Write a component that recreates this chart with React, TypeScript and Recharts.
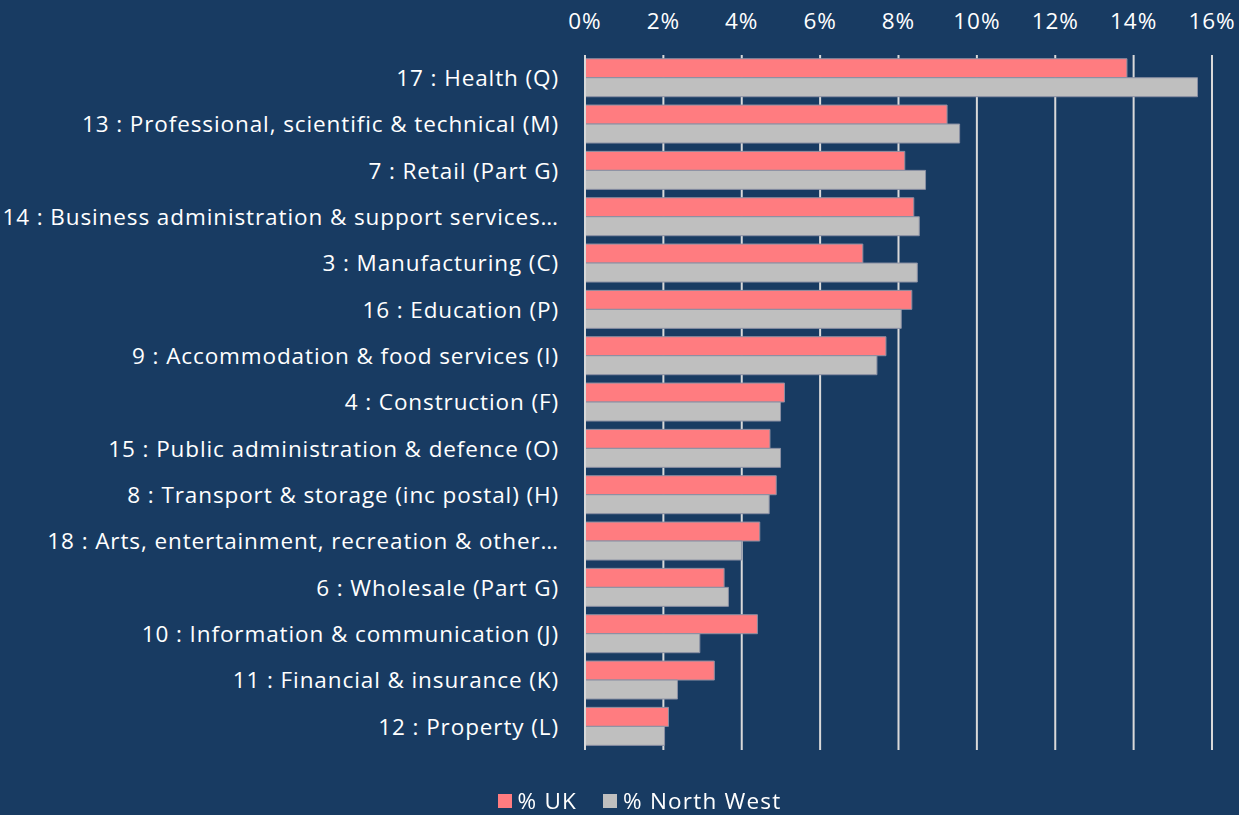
import React from 'react';
import { BarChart, Bar, XAxis, YAxis, CartesianGrid } from 'recharts';

// Sectors, top to bottom
const sectors = [
    '17 : Health (Q)',
    '13 : Professional, scientific & technical (M)',
    '7 : Retail (Part G)',
    '14 : Business administration & support services…',
    '3 : Manufacturing (C)',
    '16 : Education (P)',
    '9 : Accommodation & food services (I)',
    '4 : Construction (F)',
    '15 : Public administration & defence (O)',
    '8 : Transport & storage (inc postal) (H)',
    '18 : Arts, entertainment, recreation & other…',
    '6 : Wholesale (Part G)',
    '10 : Information & communication (J)',
    '11 : Financial & insurance (K)',
    '12 : Property (L)',
];

const ukShare = [13.83, 9.24, 8.16, 8.39, 7.09, 8.34, 7.68, 5.09, 4.72, 4.88, 4.46, 3.55, 4.40, 3.30, 2.13];
const northWestShare = [15.63, 9.56, 8.69, 8.53, 8.48, 8.07, 7.45, 4.99, 4.99, 4.70, 4.00, 3.66, 2.93, 2.36, 2.03];

const xTicks = [0, 2, 4, 6, 8, 10, 12, 14, 16];

const BG = '#183B62';
const UK_COLOR = '#FF7C80';
const NW_COLOR = '#BFBFBF';
const FONT = '"Open Sans", sans-serif';
const FS = 22.5;
const LS = 0.9;

const data = sectors.map((name, i) => ({
    name,
    uk: ukShare[i],
    nw: northWestShare[i],
}));

const tickStyle = { fill: '#fff', fontSize: FS, fontFamily: FONT, letterSpacing: LS };

const LegendBox: React.FC = () => (
    <div style={{ position: 'absolute', top: 787, left: 0, width: 1239, display: 'flex', justifyContent: 'center', fontFamily: FONT, fontSize: FS, letterSpacing: 1.2, color: '#fff', lineHeight: '28px' }}>
        <div style={{ display: 'flex', alignItems: 'center', marginRight: 26, marginLeft: 40 }}>
            <span style={{ width: 14, height: 14, background: UK_COLOR, display: 'inline-block', marginRight: 6 }} />
            <span>% UK</span>
        </div>
        <div style={{ display: 'flex', alignItems: 'center' }}>
            <span style={{ width: 14, height: 14, background: NW_COLOR, display: 'inline-block', marginRight: 6 }} />
            <span>% North West</span>
        </div>
    </div>
);

export default function App() {
    return (
        <div style={{ position: 'fixed', left: 0, top: 0, width: 1239, height: 815, background: BG }}>
            <BarChart
                width={1239}
                height={815}
                data={data}
                layout="vertical"
                margin={{ top: 15, right: 27, bottom: 65, left: 0 }}
                barGap={0}
                barCategoryGap="8%"
            >
                <CartesianGrid horizontal={false} vertical={true} stroke="#D9D9D9" strokeWidth={2} />
                <XAxis
                    type="number"
                    orientation="top"
                    domain={[0, 16]}
                    ticks={xTicks}
                    tickFormatter={(v) => `${v}%`}
                    axisLine={false}
                    tickLine={false}
                    tickSize={0}
                    tickMargin={26}
                    height={40}
                    interval={0}
                    tick={tickStyle}
                />
                <YAxis
                    type="category"
                    dataKey="name"
                    width={585}
                    axisLine={{ stroke: '#D9D9D9', strokeWidth: 2 }}
                    tickLine={false}
                    tickSize={0}
                    tickMargin={26}
                    interval={0}
                    tick={tickStyle}
                />
                <Bar dataKey="uk" name="% UK" fill={UK_COLOR} stroke="#8a8fa3" strokeWidth={1} isAnimationActive={false} />
                <Bar dataKey="nw" name="% North West" fill={NW_COLOR} stroke="#8a8fa3" strokeWidth={1} isAnimationActive={false} />
            </BarChart>
            <LegendBox />
        </div>
    );
}
